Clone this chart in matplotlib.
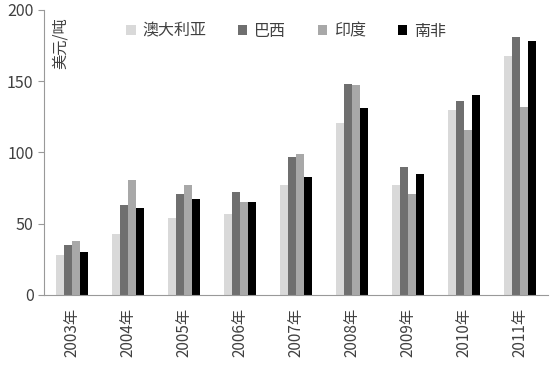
import matplotlib
matplotlib.use("Agg")
import matplotlib.pyplot as plt
import numpy as np

plt.rcParams["font.family"] = ["Noto Sans CJK SC", "DejaVu Sans"]

years = ["2003年", "2004年", "2005年", "2006年", "2007年", "2008年", "2009年", "2010年", "2011年"]
series_names = ["澳大利亚", "巴西", "印度", "南非"]
australia = [28, 43, 54, 57, 77, 121, 77, 130, 168]
brazil = [35, 63, 71, 72, 97, 148, 90, 136, 181]
india = [38, 81, 77, 65, 99, 147, 71, 116, 132]
south_africa = [30, 61, 67, 65, 83, 131, 85, 140, 178]
colors = ["#d9d9d9", "#6f6f6f", "#a8a8a8", "#000000"]

txt = "#404040"
fig = plt.figure(figsize=(5.5, 3.66), dpi=100)
ax = fig.add_axes([0.08, 0.194, 0.916, 0.779])

x = np.arange(len(years))
w = 0.145
for k, (vals, nm) in enumerate(zip([australia, brazil, india, south_africa], series_names)):
    ax.bar(x + (k - 1.5) * w, vals, width=w, color=colors[k], label=nm, zorder=2)

ax.set_xlim(-0.5, len(years) - 0.5)
ax.set_ylim(0, 200)
ax.set_yticks([0, 50, 100, 150, 200])
ax.set_xticks(x)
ax.set_xticklabels(years, rotation=90, fontsize=11, color=txt)
ax.tick_params(axis="y", labelsize=11.5, colors=txt, length=4, color="#999999")
ax.tick_params(axis="x", length=0, pad=9)
for s in ["top", "right"]:
    ax.spines[s].set_visible(False)
for s in ["left", "bottom"]:
    ax.spines[s].set_color("#999999")

ax.text(0.016, 0.975, "美元/吨", rotation=90, transform=ax.transAxes,
        ha="left", va="top", fontsize=11, color=txt)

ax.legend(loc="upper center", bbox_to_anchor=(0.48, 1.005), ncol=4, frameon=False,
          fontsize=11.5, handlelength=0.6, handleheight=0.6, columnspacing=2.0,
          handletextpad=0.4, labelcolor=txt)

fig.savefig("out.png", dpi=100)
